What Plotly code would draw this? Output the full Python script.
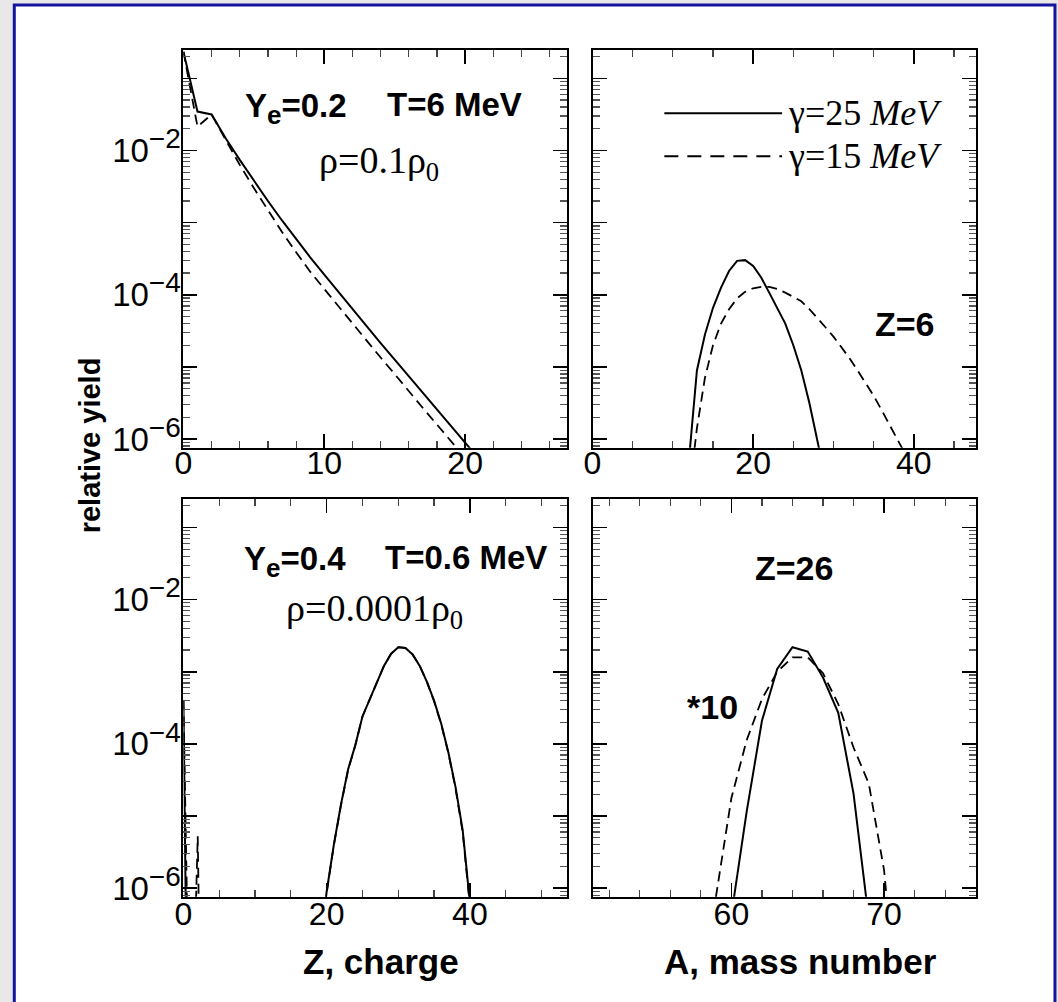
import plotly.graph_objects as go

W, H = 1058, 1002

# ---------------- data (log10 of relative yield) ----------------
# Top-left: charge distribution, Ye=0.2, T=6 MeV, rho=0.1 rho0
tl_z = list(range(0, 22))
tl_solid_log = [-0.63, -1.46, -1.50, -1.83, -2.13, -2.42, -2.70, -2.97, -3.23, -3.48, -3.72,
                -3.96, -4.20, -4.44, -4.67, -4.90, -5.13, -5.36, -5.59, -5.82, -6.05, -6.28]
tl_dash_log = [-0.63, -1.67, -1.50, -1.86, -2.20, -2.52, -2.83, -3.13, -3.41, -3.68, -3.92,
               -4.16, -4.40, -4.64, -4.87, -5.10, -5.34, -5.57, -5.80, -6.03, -6.26, -6.49]

# Top-right: mass distribution for Z=6
tr_a_solid = list(range(12, 30))
tr_solid_log = [-6.30, -5.05, -4.55, -4.18, -3.90, -3.67, -3.53, -3.52, -3.60, -3.76, -3.97,
                -4.18, -4.40, -4.70, -5.05, -5.50, -6.00, -6.55]
tr_a_dash = list(range(12, 40))
tr_dash_log = [-6.80, -5.85, -5.15, -4.70, -4.40, -4.20, -4.05, -3.96, -3.91, -3.89, -3.89,
               -3.92, -3.97, -4.03, -4.09, -4.20, -4.32, -4.45, -4.58, -4.73, -4.88, -5.05,
               -5.23, -5.40, -5.60, -5.80, -6.00, -6.22]

# Bottom-left: charge distribution, Ye=0.4, T=0.6 MeV, rho=0.0001 rho0
bl_z_low = [0, 1]
bl_solid_low_log = [-3.40, -12.0]
bl_z_low_dash = [0, 1, 2, 3]
bl_dash_low_log = [-3.40, -9.0, -5.28, -12.0]
bl_z = list(range(19, 41))
bl_solid_log = [-6.90, -6.05, -5.40, -4.84, -4.35, -4.02, -3.62, -3.38, -3.15, -2.92, -2.75,
                -2.66, -2.67, -2.76, -2.92, -3.14, -3.40, -3.72, -4.12, -4.60, -5.20, -6.20]
bl_dash_log = [-6.92, -6.07, -5.41, -4.85, -4.36, -4.02, -3.62, -3.38, -3.15, -2.92, -2.75,
               -2.66, -2.67, -2.76, -2.92, -3.14, -3.41, -3.73, -4.13, -4.62, -5.23, -6.25]

# Bottom-right: mass distribution for Z=26 (x10)
br_a_solid = list(range(60, 70))
br_solid_log = [-6.37, -4.94, -3.68, -2.96, -2.66, -2.72, -3.08, -3.57, -4.69, -6.43]
br_a_dash = list(range(58, 72))
br_dash_log = [-9.0, -6.10, -4.75, -3.95, -3.38, -3.00, -2.80, -2.80, -3.02, -3.45, -4.05,
               -4.55, -5.75, -8.0]

# tick labels
y_tick_exp = [-6, -5, -4, -3, -2, -1]
SUP = '<sup><span style="font-size:28px">\u2212{}</span></sup>'
y_tick_text = ["10" + SUP.format(6), "", "10" + SUP.format(4), "", "10" + SUP.format(2), ""]

# ---------------- layout helpers ----------------
# map target picture pixels to figure paper fractions (compensates the
# small offset/scale observed in the photographed page)
SX, OX = 0.9937, 8.2
SY, OY = 0.992, -1.6

def fx(p):
    return ((p - OX) / SX) / W

def fy(p):
    return 1 - ((p - OY) / SY) / H

SANS = "Liberation Sans, Arial, Helvetica, sans-serif"
SERIF = "Liberation Serif, Times New Roman, serif"

fig = go.Figure()

def to_val(logs):
    return [10 ** v for v in logs]

solid = dict(color="black", width=2)
dashed = dict(color="black", width=1.8, dash="10px,6px")

def add(x, logs, line, xa, ya):
    fig.add_trace(go.Scatter(x=x, y=to_val(logs), mode="lines", line=line,
                             xaxis=xa, yaxis=ya, showlegend=False, hoverinfo="skip"))

add(tl_z, tl_solid_log, solid, "x", "y")
add(tl_z, tl_dash_log, dashed, "x", "y")
add(tr_a_solid, tr_solid_log, solid, "x2", "y2")
add(tr_a_dash, tr_dash_log, dashed, "x2", "y2")
add(bl_z_low, bl_solid_low_log, solid, "x3", "y3")
add(bl_z_low_dash, bl_dash_low_log, dashed, "x3", "y3")
add(bl_z, bl_solid_log, solid, "x3", "y3")
add(bl_z, bl_dash_log, dashed, "x3", "y3")
add(br_a_solid, br_solid_log, solid, "x4", "y4")
add(br_a_dash, br_dash_log, dashed, "x4", "y4")

# panel domains (target pixels)
left_x = (183, 567)
right_x = (593, 977)
top_y = (48, 447)
bot_y = (498, 897)

minor_y = [k * 10 ** e for e in range(-7, 0) for k in range(2, 10)]

def xaxis(dom, rng, tickvals, minor_dtick, anchor, standoff, show_labels=True):
    return dict(domain=[fx(dom[0]), fx(dom[1])], range=rng, anchor=anchor,
                showline=True, linecolor="black", linewidth=2, mirror="ticks",
                ticks="inside", ticklen=14, tickwidth=1.6, tickcolor="black",
                tickmode="array", tickvals=tickvals,
                showticklabels=show_labels, ticklabelstandoff=standoff,
                tickfont=dict(family=SANS, size=32, color="black"),
                minor=dict(ticks="inside", ticklen=7, tickwidth=1.2, tickcolor="#444",
                           dtick=minor_dtick, tick0=0, showgrid=False),
                showgrid=False, zeroline=False, fixedrange=True)

def yaxis(dom, anchor, show_labels=True):
    return dict(domain=[fy(dom[1]), fy(dom[0])], type="log", range=[-6.12, -0.6], anchor=anchor,
                showline=True, linecolor="black", linewidth=2, mirror="ticks",
                ticks="inside", ticklen=14, tickwidth=1.6, tickcolor="black",
                tickmode="array", tickvals=[10 ** e for e in y_tick_exp], ticktext=y_tick_text,
                showticklabels=show_labels, ticklabelstandoff=-6,
                tickfont=dict(family=SANS, size=33, color="black"),
                minor=dict(ticks="inside", ticklen=7, tickwidth=1.2, tickcolor="#555",
                           tickvals=minor_y, showgrid=False),
                showgrid=False, zeroline=False, fixedrange=True)

fig.update_layout(
    width=W, height=H,
    margin=dict(l=0, r=0, t=0, b=0),
    paper_bgcolor="#e8e8e8",
    plot_bgcolor="white",
    xaxis=xaxis(left_x, [0, 27.2], [0, 10, 20], 2, "y", -14),
    yaxis=yaxis(top_y, "x"),
    xaxis2=xaxis(right_x, [0, 47.7], [0, 20, 40], 5, "y2", -14),
    yaxis2=yaxis(top_y, "x2", show_labels=False),
    xaxis3=xaxis(left_x, [0, 53.5], [0, 20, 40], 5, "y3", -12),
    yaxis3=yaxis(bot_y, "x3"),
    xaxis4=xaxis(right_x, [50.9, 76.0], [60, 70], 2, "y4", -12),
    yaxis4=yaxis(bot_y, "x4", show_labels=False),
)

# outer frame
fig.add_shape(type="rect", xref="paper", yref="paper",
              x0=fx(13.5), x1=fx(1056.5), y0=-0.05, y1=fy(3.5),
              line=dict(color="#14149c", width=3), fillcolor="white", layer="below")

# legend sample lines (top-right panel)
fig.add_shape(type="line", xref="paper", yref="paper", x0=fx(665), x1=fx(783),
              y0=fy(112), y1=fy(112), line=dict(color="black", width=2))
fig.add_shape(type="line", xref="paper", yref="paper", x0=fx(665), x1=fx(783),
              y0=fy(155), y1=fy(155), line=dict(color="black", width=2, dash="14px,9px"))

def ann(text, x, y, size, family, xanchor="left", angle=0):
    fig.add_annotation(text=text, x=fx(x), y=fy(y), xref="paper", yref="paper",
                       xanchor=xanchor, yanchor="middle", showarrow=False, textangle=angle,
                       font=dict(family=family, size=size, color="black"))

SUBE = '<sub><span style="font-size:26px">e</span></sub>'
# top-left panel
ann("<b>Y" + SUBE + "=0.2</b>", 243, 107, 33, SANS)
ann("<b>T=6 MeV</b>", 385, 103, 33, SANS)
ann("\u03c1=0.1\u03c1<sub>0</sub>", 317, 162, 38, SERIF)
# top-right panel
ann("\u03b3=25 <i>MeV</i>", 787, 112, 36, SERIF)
ann("\u03b3=15 <i>MeV</i>", 787, 155, 36, SERIF)
ann("<b>Z=6</b>", 874, 323, 34, SANS)
# bottom-left panel
ann("<b>Y" + SUBE + "=0.4</b>", 242, 561, 33, SANS)
ann("<b>T=0.6 MeV</b>", 383, 557, 33, SANS)
ann("\u03c1=0.0001\u03c1<sub>0</sub>", 284, 611, 38, SERIF)
# bottom-right panel
ann("<b>Z=26</b>", 754, 568, 34, SANS)
ann("<b>*10</b>", 686, 707, 34, SANS)
# axis titles
ann("<b>relative yield</b>", 89, 445, 29, SANS, xanchor="center", angle=-90)
ann("<b>Z, charge</b>", 381, 962, 35, SANS, xanchor="center")
ann("<b>A, mass number</b>", 801, 962, 35, SANS, xanchor="center")

fig.write_html("out.html",
               config={"displayModeBar": False, "staticPlot": True},
               post_script="document.body.style.margin='0px';"
                           "document.body.style.overflow='hidden';")
